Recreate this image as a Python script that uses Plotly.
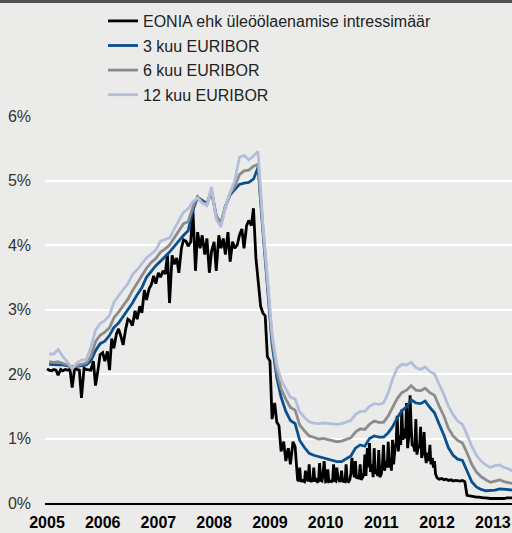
import pandas as pd
import plotly.graph_objects as go

# ---------------- data ----------------
series_names = ["EONIA ehk üleöölaenamise intressimäär", "3 kuu EURIBOR",
                "6 kuu EURIBOR", "12 kuu EURIBOR"]
year_ticks = [2005, 2006, 2007, 2008, 2009, 2010, 2011, 2012, 2013]
pct_ticks = [0, 1, 2, 3, 4, 5, 6]

# EONIA, semi-monthly (1st and 15th), 2005-01 .. 2009-06
eonia_a = [
    # 2005
    2.08, 2.06, 2.05, 2.07, 2.06, 1.98, 2.07, 2.05, 2.07, 2.06, 2.07, 1.79,
    2.08, 2.07, 2.06, 1.63, 2.09, 2.07, 2.07, 2.06, 2.20, 1.82, 2.06, 2.30,
    # 2006
    2.33, 2.20, 2.35, 2.06, 2.55, 2.40, 2.62, 2.70, 2.58, 2.45, 2.70, 2.85,
    2.82, 2.75, 2.98, 2.85, 3.05, 2.95, 3.30, 3.15, 3.32, 3.38, 3.52, 3.40,
    # 2007
    3.57, 3.50, 3.60, 3.55, 3.85, 3.10, 3.84, 3.70, 3.80, 3.57, 3.95, 4.08,
    4.06, 3.98, 4.05, 4.55, 3.60, 4.20, 3.95, 4.15, 3.85, 4.10, 3.57, 3.90,
    # 2008
    4.05, 3.60, 4.15, 3.95, 4.10, 3.85, 4.20, 3.74, 4.05, 3.95, 4.00, 4.15,
    4.25, 3.95, 4.30, 4.38, 4.30, 4.57, 3.80, 3.50, 3.05, 2.95, 2.90, 2.27,
    # 2009 H1
    2.20, 1.30, 1.55, 1.25, 1.20, 0.80, 0.95, 0.65, 0.85, 0.60, 0.95, 0.87,
]
# EONIA, four readings a month (1st, 8th, 15th, 22nd), 2009-07 .. 2011-12
eonia_b = [
    0.36, 0.34, 0.55, 0.33,  0.35, 0.34, 0.33, 0.50,  0.36, 0.34, 0.60, 0.33,
    0.35, 0.33, 0.55, 0.34,  0.36, 0.33, 0.34, 0.62,  0.35, 0.34, 0.45, 0.65,
    0.33, 0.34, 0.52, 0.33,  0.34, 0.33, 0.34, 0.60,  0.35, 0.34, 0.55, 0.40,
    0.33, 0.35, 0.50, 0.34,  0.34, 0.33, 0.60, 0.34,  0.33, 0.36, 0.45, 0.70,
    0.50, 0.40, 0.65, 0.38,  0.42, 0.37, 0.60, 0.36,  0.40, 0.45, 0.75, 0.42,
    0.85, 0.55, 0.93, 0.48,  0.60, 0.40, 0.85, 0.45,  0.50, 0.42, 0.82, 0.40,
    0.45, 0.60, 0.90, 0.50,  0.65, 0.55, 0.95, 0.55,  0.70, 0.50, 0.98, 0.60,
    0.85, 0.95, 1.35, 0.80,  1.05, 0.90, 1.45, 0.98,  1.15, 1.00, 1.55, 0.85,
    1.05, 1.67, 1.20, 0.90,  0.88, 0.80, 1.30, 0.75,  0.90, 0.85, 1.18, 0.70,
    0.80, 1.10, 0.75, 0.62,  0.78, 0.65, 0.90, 0.60,  0.70, 0.55, 0.65, 0.45,
]
# EONIA, semi-monthly, 2012-01 .. 2013-05
eonia_c = [
    0.39, 0.37, 0.38, 0.36, 0.37, 0.35, 0.36, 0.34, 0.35, 0.34, 0.34, 0.35,
    0.33, 0.12, 0.11, 0.10, 0.10, 0.09, 0.09, 0.08, 0.08, 0.08, 0.07, 0.07,
    0.07, 0.07, 0.07, 0.06, 0.07, 0.07, 0.08, 0.08, 0.09, 0.08,
]

# EURIBOR, monthly (mid-month), 2005-01 .. 2013-05
euribor_3m = [
    2.15, 2.14, 2.14, 2.14, 2.13, 2.11, 2.12, 2.13, 2.14, 2.20, 2.36, 2.47,
    2.51, 2.60, 2.72, 2.79, 2.89, 2.99, 3.10, 3.23, 3.34, 3.50, 3.60, 3.68,
    3.75, 3.82, 3.89, 3.98, 4.07, 4.15, 4.22, 4.54, 4.74, 4.69, 4.64, 4.85,
    4.45, 4.33, 4.60, 4.78, 4.86, 4.94, 4.96, 4.97, 5.02, 5.20, 4.24, 3.29,
    2.46, 1.94, 1.64, 1.42, 1.28, 1.23, 0.97, 0.86, 0.77, 0.74, 0.72, 0.71,
    0.68, 0.66, 0.64, 0.64, 0.69, 0.73, 0.85, 0.90, 0.88, 1.00, 1.04, 1.02,
    1.02, 1.09, 1.18, 1.32, 1.43, 1.49, 1.60, 1.55, 1.54, 1.58, 1.48, 1.40,
    1.22, 1.05, 0.86, 0.74, 0.68, 0.66, 0.50, 0.33, 0.25, 0.21, 0.19, 0.19,
    0.20, 0.22, 0.21, 0.21, 0.20,
]
euribor_6m = [
    2.19, 2.18, 2.19, 2.17, 2.14, 2.11, 2.13, 2.16, 2.17, 2.27, 2.50, 2.60,
    2.65, 2.72, 2.87, 2.96, 3.06, 3.16, 3.29, 3.41, 3.53, 3.64, 3.73, 3.79,
    3.89, 3.94, 4.00, 4.11, 4.20, 4.33, 4.36, 4.59, 4.75, 4.66, 4.63, 4.82,
    4.45, 4.33, 4.59, 4.80, 4.90, 5.09, 5.15, 5.16, 5.22, 5.25, 4.29, 3.37,
    2.54, 2.03, 1.77, 1.61, 1.48, 1.44, 1.21, 1.12, 1.04, 1.02, 0.99, 1.00,
    0.98, 0.96, 0.95, 0.96, 0.98, 1.01, 1.10, 1.15, 1.14, 1.22, 1.27, 1.25,
    1.25, 1.35, 1.48, 1.62, 1.71, 1.75, 1.82, 1.75, 1.74, 1.78, 1.71, 1.67,
    1.50, 1.35, 1.16, 1.04, 0.97, 0.93, 0.78, 0.60, 0.48, 0.41, 0.36, 0.32,
    0.34, 0.36, 0.33, 0.32, 0.30,
]
euribor_12m = [
    2.31, 2.31, 2.38, 2.27, 2.19, 2.08, 2.17, 2.22, 2.22, 2.41, 2.68, 2.78,
    2.83, 2.91, 3.11, 3.22, 3.31, 3.40, 3.54, 3.62, 3.72, 3.80, 3.86, 3.92,
    4.06, 4.09, 4.11, 4.25, 4.37, 4.51, 4.56, 4.67, 4.73, 4.65, 4.61, 4.90,
    4.40, 4.28, 4.59, 4.82, 4.99, 5.36, 5.39, 5.32, 5.38, 5.45, 4.35, 3.45,
    2.62, 2.14, 1.91, 1.77, 1.64, 1.61, 1.41, 1.33, 1.26, 1.24, 1.23, 1.24,
    1.23, 1.23, 1.22, 1.23, 1.25, 1.28, 1.37, 1.42, 1.42, 1.50, 1.54, 1.53,
    1.55, 1.71, 1.92, 2.09, 2.15, 2.14, 2.18, 2.10, 2.07, 2.11, 2.04, 2.00,
    1.84, 1.68, 1.50, 1.37, 1.27, 1.22, 1.06, 0.88, 0.74, 0.65, 0.59, 0.55,
    0.58, 0.59, 0.55, 0.53, 0.48,
]

# ---------------- dates ----------------
dates_a = list(pd.date_range("2005-01-01", periods=len(eonia_a), freq="SMS"))
months_b = pd.date_range("2009-07-01", periods=len(eonia_b) // 4, freq="MS")
dates_b = [m + pd.Timedelta(days=dd) for m in months_b for dd in (0, 7, 14, 21)]
dates_c = list(pd.date_range("2012-01-01", periods=len(eonia_c), freq="SMS"))
eonia_dates = dates_a + dates_b + dates_c
eonia = eonia_a + eonia_b + eonia_c

euribor_dates = pd.date_range("2005-01-01", periods=len(euribor_3m), freq="MS") + pd.Timedelta(days=14)

colors = ["#000000", "#0b4f8f", "#8c8c8c", "#b4bedb"]

fig = go.Figure()
series = [(eonia_dates, eonia), (euribor_dates, euribor_3m),
          (euribor_dates, euribor_6m), (euribor_dates, euribor_12m)]
for (d, v), name, c in zip(series, series_names, colors):
    fig.add_trace(go.Scatter(x=d, y=v, mode="lines", name=name,
                             line=dict(color=c, width=2.8), legendgroup=name))

W, H = 512, 533
ml, mr, mt, mb = 45, 0, 116, 30
plot_w = W - ml - mr
plot_h = H - mt - mb

fig.update_layout(
    width=W, height=H,
    margin=dict(l=ml, r=mr, t=mt, b=mb, pad=0),
    paper_bgcolor="#ebecea", plot_bgcolor="#ebecea",
    font=dict(family="Liberation Sans, Arial, sans-serif", color="#222222"),
    showlegend=True,
    legend=dict(x=(103 - ml) / plot_w, y=(H - mb - 4) / plot_h,
                xanchor="left", yanchor="top", bgcolor="rgba(0,0,0,0)",
                font=dict(size=16, color="#222222"), tracegroupgap=0.8,
                itemwidth=30),
    xaxis=dict(type="date", range=["2004-12-19", "2013-05-06"],
               tickvals=[f"{y}-01-01" for y in year_ticks],
               ticktext=[str(y) for y in year_ticks],
               showgrid=False, zeroline=False, showline=True,
               linecolor="#000000", linewidth=1.5, ticks="",
               tickfont=dict(size=16, color="#000000",
                             family="Liberation Sans, Arial, sans-serif", weight="bold"),
               ticklabelstandoff=4),
    yaxis=dict(range=[0, 6], tickvals=pct_ticks,
               ticktext=[f"{p}%" for p in pct_ticks],
               showgrid=True, gridcolor="#ffffff", gridwidth=2,
               zeroline=False, ticks="", ticklabelstandoff=13,
               tickfont=dict(size=16, color="#333333")),
    shapes=[dict(type="rect", xref="paper", yref="paper",
                 x0=-ml / plot_w, x1=1.0,
                 y0=(H - mb - 3) / plot_h, y1=(H - mb) / plot_h,
                 fillcolor="#505153", line=dict(width=0), layer="above")],
)

fig.write_html("out.html", config={"displayModeBar": False},
               post_script="document.body.style.margin='0px';")
